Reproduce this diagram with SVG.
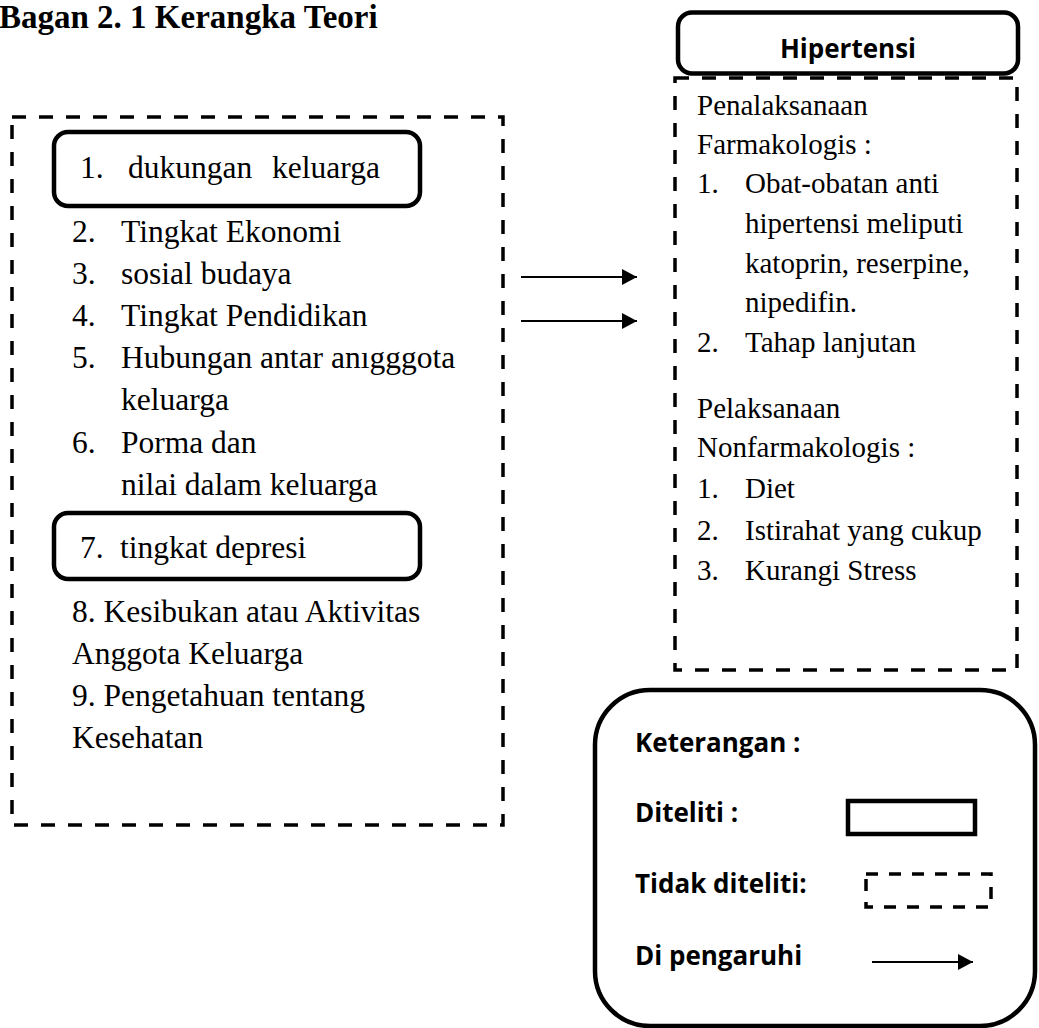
<svg xmlns="http://www.w3.org/2000/svg" width="1039" height="1028" viewBox="0 0 1039 1028">
<style>
.serif{font-family:"Liberation Serif","Times New Roman",serif;fill:#000}
.l{font-size:31.5px}
.r{font-size:29px}
.sans{font-family:"Open Sans","Liberation Sans",sans-serif;font-weight:700;fill:#000}
.solid{fill:#fff;stroke:#000;stroke-width:4.5}
.dash{fill:none;stroke:#000;stroke-width:3.5;stroke-dasharray:14 13}
.conn{stroke:#000;stroke-width:2;fill:none}
</style>
<defs>
<marker id="ah" markerWidth="16" markerHeight="16" refX="15" refY="8" orient="auto" markerUnits="userSpaceOnUse">
<path d="M0,0 L15,8 L0,16 Z" fill="#000"/>
</marker>
</defs>
<rect width="1039" height="1028" fill="#fff"/>
<text class="serif" x="-1" y="28" font-size="33" font-weight="700">Bagan 2. 1 Kerangka Teori</text>

<g id="faktor">
<rect class="dash" x="12" y="117" width="491" height="708"/>
<g id="dukungan">
<rect class="solid" x="54" y="132" width="366" height="74" rx="14"/>
<text class="serif l" y="178"><tspan x="80">1.</tspan><tspan x="128">dukungan</tspan><tspan x="272">keluarga</tspan></text>
</g>
<text class="serif l" y="242"><tspan x="72">2.</tspan><tspan x="121">Tingkat Ekonomi</tspan></text>
<text class="serif l" y="284"><tspan x="72">3.</tspan><tspan x="121">sosial budaya</tspan></text>
<text class="serif l" y="326"><tspan x="72">4.</tspan><tspan x="121">Tingkat Pendidikan</tspan></text>
<text class="serif l" y="368"><tspan x="72">5.</tspan><tspan x="121">Hubungan antar anıgggota</tspan></text>
<text class="serif l" x="121" y="410">keluarga</text>
<text class="serif l" y="453"><tspan x="72">6.</tspan><tspan x="121">Porma dan</tspan></text>
<text class="serif l" x="121" y="495">nilai dalam keluarga</text>
<g id="depresi">
<rect class="solid" x="54" y="513" width="366" height="66" rx="14"/>
<text class="serif l" y="558"><tspan x="80">7.</tspan><tspan x="120">tingkat depresi</tspan></text>
</g>
<text class="serif l" x="72" y="622">8. Kesibukan atau Aktivitas</text>
<text class="serif l" x="72" y="664">Anggota Keluarga</text>
<text class="serif l" x="72" y="706">9. Pengetahuan tentang</text>
<text class="serif l" x="72" y="748">Kesehatan</text>
</g>

<g id="hipertensi">
<rect class="dash" x="675" y="78" width="342" height="592"/>
<rect class="solid" x="678" y="12.5" width="340" height="61" rx="14"/>
<text class="sans" x="848" y="58" font-size="26" text-anchor="middle">Hipertensi</text>
<text class="serif r" x="697" y="115">Penalaksanaan</text>
<text class="serif r" x="697" y="154">Farmakologis :</text>
<text class="serif r" y="193"><tspan x="697">1.</tspan><tspan x="745">Obat-obatan anti</tspan></text>
<text class="serif r" x="745" y="233">hipertensi meliputi</text>
<text class="serif r" x="745" y="273">katoprin, reserpine,</text>
<text class="serif r" x="745" y="312">nipedifin.</text>
<text class="serif r" y="352"><tspan x="697">2.</tspan><tspan x="745">Tahap lanjutan</tspan></text>
<text class="serif r" x="697" y="418">Pelaksanaan</text>
<text class="serif r" x="697" y="457">Nonfarmakologis :</text>
<text class="serif r" y="498"><tspan x="697">1.</tspan><tspan x="745">Diet</tspan></text>
<text class="serif r" y="540"><tspan x="697">2.</tspan><tspan x="745">Istirahat yang cukup</tspan></text>
<text class="serif r" y="580"><tspan x="697">3.</tspan><tspan x="745">Kurangi Stress</tspan></text>
</g>

<g id="connectors">
<line class="conn" x1="521" y1="277" x2="637" y2="277" marker-end="url(#ah)"/>
<line class="conn" x1="521" y1="321" x2="637" y2="321" marker-end="url(#ah)"/>
</g>

<g id="keterangan">
<rect class="solid" x="595" y="690" width="440" height="336" rx="55"/>
<text class="sans" x="635" y="752" font-size="26">Keterangan :</text>
<text class="sans" x="635" y="822" font-size="26">Diteliti :</text>
<text class="sans" x="635" y="893" font-size="26">Tidak diteliti:</text>
<text class="sans" x="635" y="965" font-size="26">Di pengaruhi</text>
<rect class="solid" x="848" y="801" width="127" height="33"/>
<rect x="866" y="874" width="125" height="33" fill="none" stroke="#000" stroke-width="3.5" stroke-dasharray="12 11"/>
<line class="conn" x1="872" y1="962" x2="973" y2="962" marker-end="url(#ah)"/>
</g>
</svg>
